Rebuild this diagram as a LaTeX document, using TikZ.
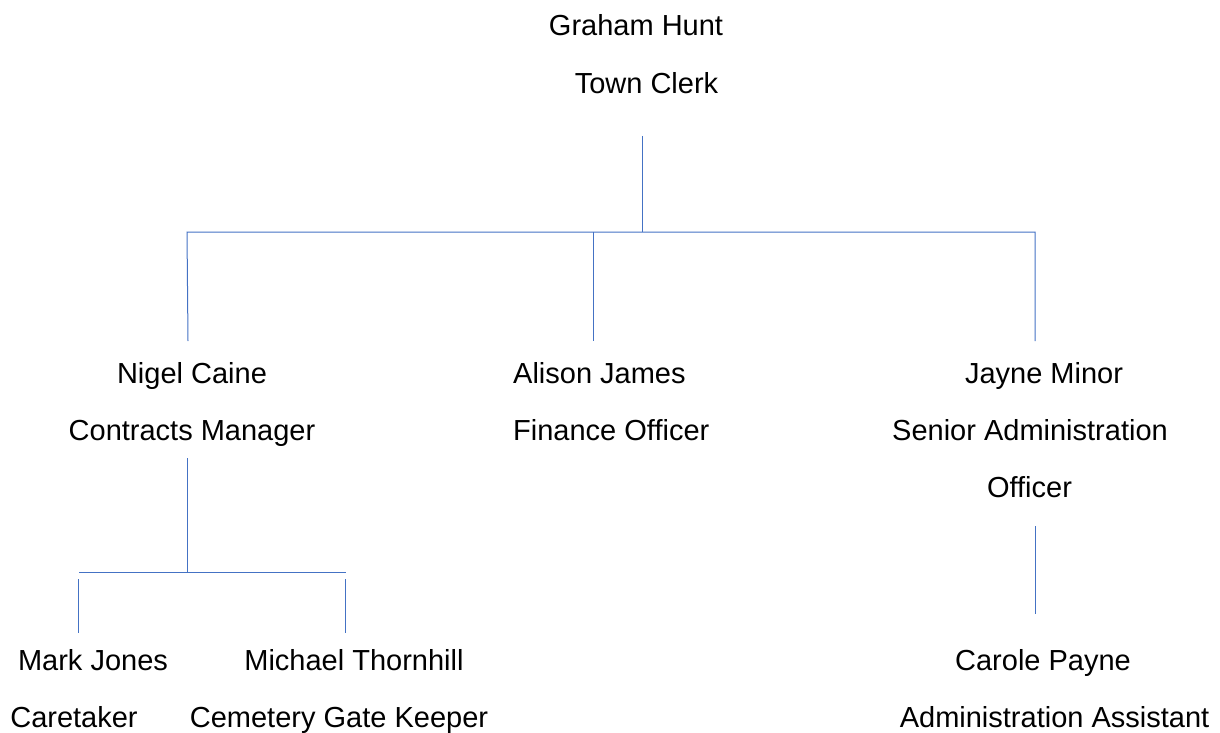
\documentclass[tikz,border=0pt]{standalone}
\usepackage{fontspec}
\setmainfont{Liberation Sans}
\definecolor{orgblue}{HTML}{4472C4}
\begin{document}
\begin{tikzpicture}[x=1pt,y=-1pt,
    lbl/.style={anchor=base,inner sep=0pt,font=\fontsize{29}{35}\selectfont},
    link/.style={orgblue,line width=1pt}]
    \useasboundingbox (0,0) rectangle (1220,733);
    % top
    \node[lbl] (hunt) at (636,36) {Graham Hunt};
    \node[lbl] (huntrole) at (646.5,94) {Town Clerk};
    % second row
    \node[lbl] (caine) at (192,383) {Nigel Caine};
    \node[lbl] (cainerole) at (192,440) {Contracts Manager};
    \node[lbl,anchor=base west] (james) at (513,383) {Alison James};
    \node[lbl,anchor=base west] (jamesrole) at (513,440) {Finance Officer};
    \node[lbl] (minor) at (1044,383) {Jayne Minor};
    \node[lbl] (minorrole) at (1030,440) {Senior Administration};
    \node[lbl] (minorrole2) at (1029.5,497) {Officer};
    % third row
    \node[lbl] (jones) at (93,670) {Mark Jones};
    \node[lbl] (jonesrole) at (74,727) {Caretaker};
    \node[lbl] (thornhill) at (354,670) {Michael Thornhill};
    \node[lbl] (thornhillrole) at (339,727) {Cemetery Gate Keeper};
    \node[lbl] (payne) at (1043,670) {Carole Payne};
    \node[lbl] (paynerole) at (1054.5,727) {Administration Assistant};
    % connector ends
    \coordinate (clerkdown) at (642,136);
    \coordinate (busmid) at (642,232);
    \coordinate (busleft) at (187,232);
    \coordinate (busright) at (1035,232);
    \coordinate (busalison) at (593,232);
    \coordinate (caineup) at (188,341);
    \coordinate (jamesup) at (593,341);
    \coordinate (minorup) at (1035,341);
    \coordinate (cainedown) at (187,458);
    \coordinate (subbus) at (187,572);
    \coordinate (subleft) at (79,572);
    \coordinate (subright) at (346,572);
    \coordinate (jonesup) at (78,633);
    \coordinate (jonestop) at (78,579);
    \coordinate (thornup) at (345,633);
    \coordinate (thorntop) at (345,579);
    \coordinate (minordown) at (1035,526);
    \coordinate (payneup) at (1035,614);
    % lines
    \draw[link] (clerkdown) -- (busmid);
    \draw[link] (caineup) -- (busleft) -- (busright) -- (minorup);
    \draw[link] (busalison) -- (jamesup);
    \draw[link] (cainedown) -- (subbus);
    \draw[link] (subleft) -- (subright);
    \draw[link] (jonestop) -- (jonesup);
    \draw[link] (thorntop) -- (thornup);
    \draw[link] (minordown) -- (payneup);
\end{tikzpicture}
\end{document}
